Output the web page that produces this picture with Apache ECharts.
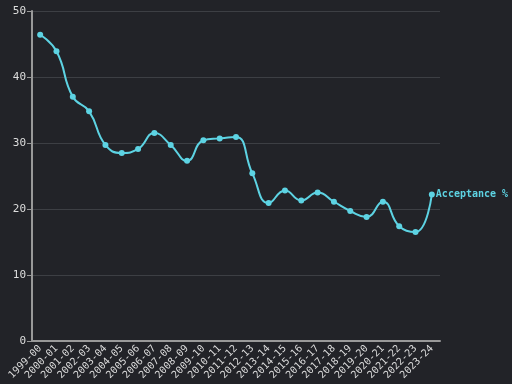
<!DOCTYPE html>
<html><head><meta charset="utf-8">
<script src="https://cdn.jsdelivr.net/npm/echarts@6/dist/echarts.min.js"></script>
<style>html,body{margin:0;padding:0;background:#222328;}#c{width:512px;height:384px;}</style>
</head><body><div id="c"></div>
<script>
const categories = ["1999-00","2000-01","2001-02","2002-03","2003-04","2004-05","2005-06","2006-07","2007-08","2008-09","2009-10","2010-11","2011-12","2012-13","2013-14","2014-15","2015-16","2016-17","2017-18","2018-19","2019-20","2020-21","2021-22","2022-23","2023-24"];
const acceptance = [46.4,43.9,37.0,34.8,29.7,28.5,29.1,31.5,29.7,27.3,30.4,30.7,30.9,25.4,20.9,22.8,21.3,22.5,21.1,19.7,18.8,21.1,17.4,16.5,22.2];
const seriesName = "Acceptance %";
const font = "DejaVu Sans Mono";
const chart = echarts.init(document.getElementById('c'), null, {renderer:'canvas'});
chart.setOption({
  backgroundColor:'#222328',
  animation:false,
  grid:{left:32,right:72,top:11,bottom:43},
  xAxis:{type:'category',data:categories,boundaryGap:true,
    axisLine:{lineStyle:{color:'#999',width:2}},
    axisTick:{alignWithLabel:true,length:5,lineStyle:{color:'#999'}},
    axisLabel:{rotate:45,color:'#ddd',fontFamily:font,fontSize:10,margin:6,interval:0}},
  yAxis:{type:'value',min:0,max:50,interval:10,
    axisLine:{show:true,lineStyle:{color:'#999',width:2}},
    axisTick:{show:true,length:5,lineStyle:{color:'#999'}},
    splitLine:{lineStyle:{color:'#3d3f44',width:1}},
    axisLabel:{color:'#ddd',fontFamily:font,fontSize:11,margin:6}},
  series:[{name:seriesName,type:'line',data:acceptance,smooth:true,
    symbol:'circle',symbolSize:6,
    lineStyle:{color:'#5dd3e3',width:2},itemStyle:{color:'#5dd3e3'},
    endLabel:{show:true,formatter:'{a}',color:'#5dd3e3',fontFamily:font,fontWeight:'bold',fontSize:10,distance:4}}]
});
</script></body></html>
